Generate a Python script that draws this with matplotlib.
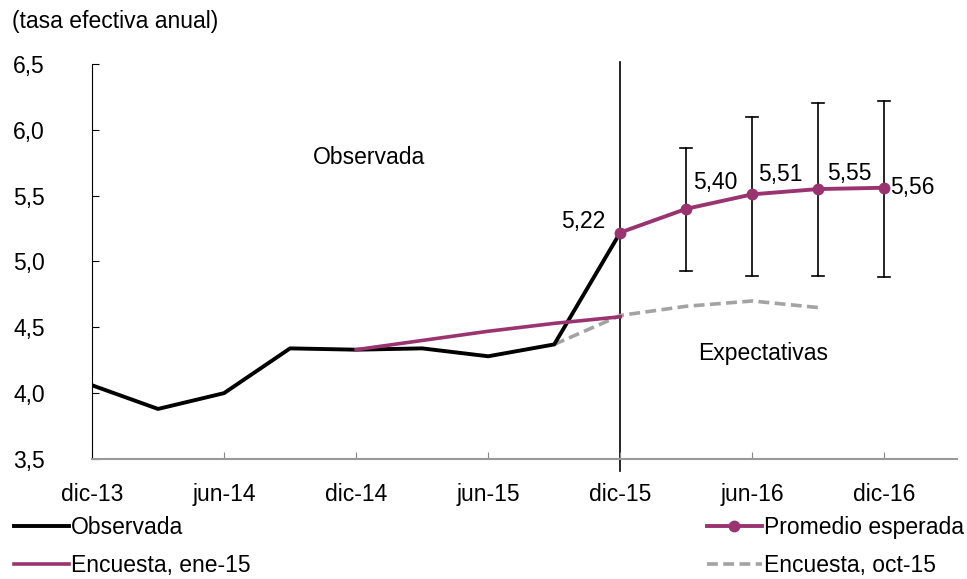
import matplotlib.pyplot as plt

plt.rcParams['font.family'] = ['Liberation Sans', 'DejaVu Sans']

# trimestres desde dic-13 (0) hasta dic-16 (12)
tick_pos = [0, 2, 4, 6, 8, 10, 12]
tick_labels = ["dic-13", "jun-14", "dic-14", "jun-15", "dic-15", "jun-16", "dic-16"]

obs_x = [0, 1, 2, 3, 4, 5, 6, 7, 8]
obs_y = [4.06, 3.88, 4.00, 4.34, 4.33, 4.34, 4.28, 4.37, 5.22]

ene15_x = [4, 5, 6, 7, 8]
ene15_y = [4.33, 4.40, 4.47, 4.53, 4.58]

oct15_x = [7, 8, 9, 10, 11]
oct15_y = [4.37, 4.59, 4.66, 4.70, 4.65]

prom_x = [8, 9, 10, 11, 12]
prom_y = [5.22, 5.40, 5.51, 5.55, 5.56]
prom_labels = ["5,22", "5,40", "5,51", "5,55", "5,56"]

err_x = [9, 10, 11, 12]
err_low = [4.93, 4.89, 4.89, 4.88]
err_high = [5.86, 6.10, 6.20, 6.22]

purple = "#9a3470"
fs = 16.5

fig = plt.figure(figsize=(9.67, 5.79), dpi=100)
ax = fig.add_axes([0.0951, 0.2073, 0.8946, 0.6822])

ax.plot(obs_x, obs_y, color="black", lw=2.8, label="Observada", zorder=3)
ax.plot(ene15_x, ene15_y, color=purple, lw=2.6, label="Encuesta, ene-15", zorder=4)
ax.plot(oct15_x, oct15_y, color="#a3a3a3", lw=2.6, ls=(0, (3, 1.5)),
        label="Encuesta, oct-15", zorder=2)

# bandas de error
for x, lo, hi in zip(err_x, err_low, err_high):
    ax.plot([x, x], [lo, hi], color="black", lw=1.2, zorder=2)
    ax.plot([x - 0.09, x + 0.09], [lo, lo], color="black", lw=1.2, zorder=2)
    ax.plot([x - 0.09, x + 0.09], [hi, hi], color="black", lw=1.2, zorder=2)

ax.plot(prom_x, prom_y, color=purple, lw=2.8, marker="o", ms=7.5,
        label="Promedio esperada", zorder=5)

# etiquetas de datos
ax.text(7.44, 5.30, prom_labels[0], fontsize=fs, ha="center", va="center")
ax.text(9.44, 5.60, prom_labels[1], fontsize=fs, ha="center", va="center")
ax.text(10.42, 5.66, prom_labels[2], fontsize=fs, ha="center", va="center")
ax.text(11.47, 5.67, prom_labels[3], fontsize=fs, ha="center", va="center")
ax.text(12.08, 5.56, prom_labels[4], fontsize=fs, ha="left", va="center")

ax.text(4.2, 5.79, "Observada", fontsize=fs, ha="center", va="center")
ax.text(10.17, 4.30, "Expectativas", fontsize=fs, ha="center", va="center")

# linea vertical dic-15
ax.axvline(8, ymin=-0.03, ymax=1.005, color="black", lw=1.2, clip_on=False, zorder=1)

ax.set_xlim(0, 13.1)
ax.set_ylim(3.5, 6.5)
ax.set_xticks(tick_pos)
ax.set_xticklabels(tick_labels)
ax.set_yticks([3.5, 4.0, 4.5, 5.0, 5.5, 6.0, 6.5])
ax.set_yticklabels(["3,5", "4,0", "4,5", "5,0", "5,5", "6,0", "6,5"])
ax.tick_params(axis="both", direction="in", labelsize=fs, length=5)
ax.tick_params(axis="y", pad=34)
ax.tick_params(axis="x", pad=17, color="#888888")

for s in ["top", "right"]:
    ax.spines[s].set_visible(False)
ax.spines["left"].set_color("black")
ax.spines["bottom"].set_color("#999999")
ax.spines["bottom"].set_linewidth(1.5)

fig.text(0.012, 0.963, "(tasa efectiva anual)", fontsize=fs, ha="left", va="center")

# leyenda
h, l = ax.get_legend_handles_labels()
hd = dict(zip(l, h))
fig.legend([hd["Observada"], hd["Encuesta, ene-15"]],
           ["Observada", "Encuesta, ene-15"],
           loc="upper left", bbox_to_anchor=(0.014, 0.108),
           frameon=False, fontsize=fs, handlelength=2.4, handletextpad=0.1,
           labelspacing=0.62, borderaxespad=0, borderpad=0)
fig.legend([hd["Promedio esperada"], hd["Encuesta, oct-15"]],
           ["Promedio esperada", "Encuesta, oct-15"],
           loc="upper right", bbox_to_anchor=(0.997, 0.108),
           frameon=False, fontsize=fs, handlelength=2.4, handletextpad=0.1,
           labelspacing=0.62, borderaxespad=0, borderpad=0)

fig.savefig("out.png", dpi=100)
